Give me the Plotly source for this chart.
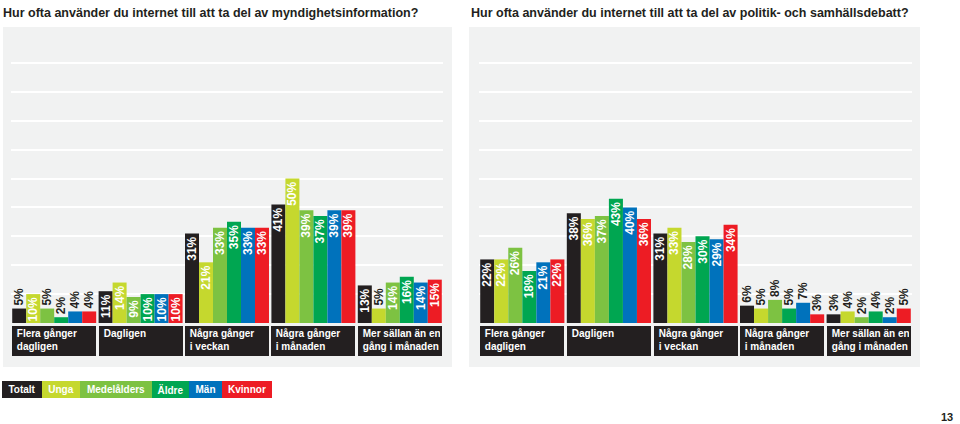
import plotly.graph_objects as go

# ---------------- data ----------------
titles = [
    "Hur ofta använder du internet till att ta del av myndighetsinformation?",
    "Hur ofta använder du internet till att ta del av politik- och samhällsdebatt?",
]
categories = [
    "Flera gånger<br>dagligen",
    "Dagligen",
    "Några gånger<br>i veckan",
    "Några gånger<br>i månaden",
    "Mer sällan än en<br>gång i månaden",
]
series = ["Totalt", "Unga", "Medelålders", "Äldre", "Män", "Kvinnor"]
colors = ["#231f20", "#c5d82e", "#7dc242", "#00a651", "#0072bc", "#ed1c24"]

# chart 1: myndighetsinformation (values per series across categories)
myndighet_totalt = [5, 11, 31, 41, 13]
myndighet_unga = [10, 14, 21, 50, 5]
myndighet_medel = [5, 9, 33, 39, 14]
myndighet_aldre = [2, 10, 35, 37, 16]
myndighet_man = [4, 10, 33, 39, 14]
myndighet_kvinnor = [4, 10, 33, 39, 15]

# chart 2: politik- och samhällsdebatt
politik_totalt = [22, 38, 31, 6, 3]
politik_unga = [22, 36, 33, 5, 4]
politik_medel = [26, 37, 28, 8, 2]
politik_aldre = [18, 43, 30, 5, 4]
politik_man = [21, 40, 29, 7, 2]
politik_kvinnor = [22, 36, 34, 3, 5]

chart_data = [
    [myndighet_totalt, myndighet_unga, myndighet_medel, myndighet_aldre, myndighet_man, myndighet_kvinnor],
    [politik_totalt, politik_unga, politik_medel, politik_aldre, politik_man, politik_kvinnor],
]
page_number = "13"

# ---------------- layout helpers ----------------
W, H = 960, 424
FONT = "Liberation Sans, Arial, sans-serif"
TITLE_FONT = "Liberation Sans Narrow, Liberation Sans, Arial, sans-serif"
BARGAP = 0.028


def px_x(p):
    return p / W


def px_y(p):
    return 1 - p / H


fig = go.Figure()

for c, data in enumerate(chart_data):
    xa = "x" if c == 0 else "x2"
    ya = "y" if c == 0 else "y2"
    for s, name in enumerate(series):
        vals = data[s]
        fig.add_trace(go.Bar(
            x=categories, y=vals, name=name,
            marker=dict(color=colors[s], line=dict(width=0)),
            xaxis=xa, yaxis=ya,
            texttemplate="%{y}%",
            textposition=["inside" if v >= 9 else "outside" for v in vals],
            insidetextanchor="end",
            textangle=-90,
            constraintext="none",
            cliponaxis=False,
            insidetextfont=dict(family=FONT, size=12, color="white", weight="bold"),
            outsidetextfont=dict(family=FONT, size=12, color="#231f20", weight="bold"),
            hoverinfo="skip",
            showlegend=False,
        ))

axis_common = dict(showgrid=False, showticklabels=False, ticks="", showline=False, zeroline=False)
yaxis_common = dict(range=[0, 100], tickvals=[10, 20, 30, 40, 50, 60, 70, 80, 90, 100],
                    showgrid=True, gridcolor="white", gridwidth=2,
                    showticklabels=False, ticks="", showline=False, zeroline=False,
                    domain=[px_y(323), px_y(34)])

fig.update_layout(
    width=W, height=H,
    margin=dict(l=0, r=0, t=0, b=0),
    paper_bgcolor="white", plot_bgcolor="rgba(0,0,0,0)",
    barmode="group", bargap=BARGAP, bargroupgap=0,
    xaxis=dict(domain=[px_x(11), px_x(443)], range=[-0.5, 4.5], type="category", **axis_common),
    xaxis2=dict(domain=[px_x(479), px_x(912)], range=[-0.5, 4.5], type="category", anchor="y2", **axis_common),
    yaxis=dict(anchor="x", **yaxis_common),
    yaxis2=dict(anchor="x2", **yaxis_common),
    showlegend=False,
)

# grey panels
for x0, x1 in [(3, 452), (469, 920)]:
    fig.add_shape(type="rect", xref="paper", yref="paper",
                  x0=px_x(x0), x1=px_x(x1), y0=px_y(367), y1=px_y(27),
                  fillcolor="#f1f2f2", line=dict(width=0), layer="below")

annotations = []
# titles
for c, t in enumerate(titles):
    annotations.append(dict(
        text=t, xref="paper", yref="paper", x=px_x(1 if c == 0 else 469), y=px_y(13),
        xanchor="left", yanchor="middle", showarrow=False,
        font=dict(family=TITLE_FONT, size=12.5, color="#231f20", weight="bold"),
    ))

# category label boxes
for c in range(2):
    xr = "x" if c == 0 else "x2"
    for i, cat in enumerate(categories):
        txt = "<br>".join("&nbsp;" + line for line in cat.split("<br>"))
        annotations.append(dict(
            text=txt, xref=xr, yref="paper", x=i, y=px_y(326),
            xanchor="center", yanchor="top", showarrow=False,
            align="left", valign="top",
            width=80, height=26, borderpad=1, borderwidth=1,
            bordercolor="#231f20", bgcolor="#231f20",
            font=dict(family=FONT, size=10, color="white", weight="bold"),
        ))

# legend boxes
legend_widths = [40, 38, 72, 37, 33, 50]
xpos = 2
for name, col, w in zip(series, colors, legend_widths):
    annotations.append(dict(
        text=name, xref="paper", yref="paper", x=px_x(xpos), y=px_y(381),
        xanchor="left", yanchor="top", showarrow=False,
        width=w, height=17, borderpad=0, borderwidth=0, bgcolor=col, align="center",
        font=dict(family=FONT, size=10, color="white", weight="bold"),
    ))
    xpos += w

# page number
annotations.append(dict(
    text=page_number, xref="paper", yref="paper", x=px_x(955), y=px_y(417),
    xanchor="right", yanchor="middle", showarrow=False,
    font=dict(family=FONT, size=11, color="#231f20", weight="bold"),
))

fig.update_layout(annotations=annotations)
fig.write_html("out.html", config={"displayModeBar": False},
               post_script="document.body.style.margin='0';document.body.style.padding='0';")
